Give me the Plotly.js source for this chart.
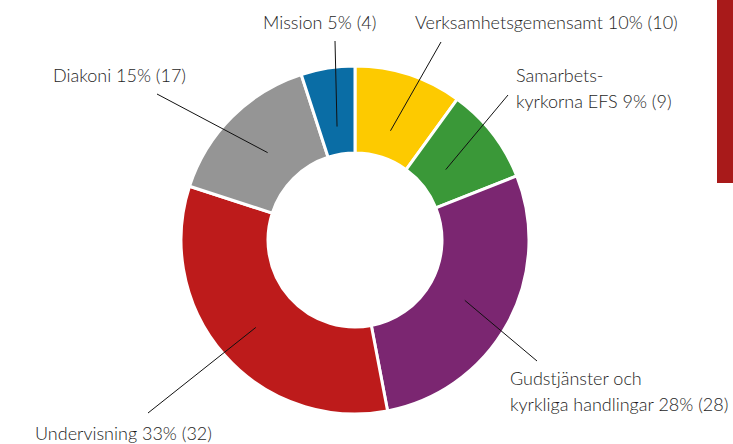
<!DOCTYPE html>
<html>
<head>
<meta charset="utf-8">
<script src="https://cdn.plot.ly/plotly-3.0.1.min.js"></script>
<style>html,body{margin:0;padding:0;background:#fff;}#chart{width:733px;height:444px;}</style>
</head>
<body>
<div id="chart"></div>
<script>
// Data
const categories = ["Verksamhetsgemensamt", "Samarbetskyrkorna EFS", "Gudstjänster och kyrkliga handlingar", "Undervisning", "Diakoni", "Mission"];
const percents = [10, 9, 28, 33, 15, 5];
const counts = [10, 9, 28, 32, 17, 4];
const colors = ["#FDCA00", "#3A9838", "#7B2671", "#BD1B1B", "#959595", "#0A6DA5"];
const labelLines = [
  ["Verksamhetsgemensamt 10% (10)"],
  ["Samarbets-", "kyrkorna EFS 9% (9)"],
  ["Gudstjänster och", "kyrkliga handlingar 28% (28)"],
  ["Undervisning 33% (32)"],
  ["Diakoni 15% (17)"],
  ["Mission 5% (4)"]
];

// Layout helpers (pixels)
const W = 733, H = 444;
const cx = 355, cy = 240, R = 174;
const px = x => x / W;
const py = y => 1 - y / H;

// leader-line tail ends and label anchors (layout only)
const tails = [[441, 42], [508, 95], [537, 361], [148, 413], [157, 94], [335, 41]];
const labelPos = [[413, 22], [514, 75], [508, 378], [33, 433], [51, 75], [261, 22]];
const lineGap = 26;
const tipFrac = [0.66, 0.66, 0.72, 0.76, 0.71, 0.66];

const total = percents.reduce((a, b) => a + b, 0);
const shapes = [];
const annotations = [];
let cum = 0;
percents.forEach((v, i) => {
  const mid = (cum + v / 2) / total * 2 * Math.PI;
  cum += v;
  const r = R * tipFrac[i];
  const tx = cx + r * Math.sin(mid), ty = cy - r * Math.cos(mid);
  shapes.push({type: "line", xref: "paper", yref: "paper",
    x0: px(tails[i][0]), y0: py(tails[i][1]), x1: px(tx), y1: py(ty),
    line: {color: "#111", width: 1}});
  labelLines[i].forEach((t, k) => {
    annotations.push({xref: "paper", yref: "paper", x: px(labelPos[i][0]), y: py(labelPos[i][1] + k * lineGap),
      xanchor: "left", yanchor: "middle", showarrow: false, text: t,
      font: {family: "Lato, 'Noto Sans', sans-serif", size: 18, weight: 300, color: "#1e1e1e"}});
  });
});

// decorative red bar at right
shapes.push({type: "rect", xref: "paper", yref: "paper", x0: px(717), x1: 1, y0: py(183), y1: 1,
  fillcolor: "#A81A1A", line: {width: 0}, layer: "below"});

const trace = {
  type: "pie",
  labels: categories,
  values: percents,
  customdata: counts,
  hole: 0.5,
  sort: false,
  direction: "clockwise",
  rotation: 0,
  textinfo: "none",
  hovertemplate: "%{label}: %{value}% (%{customdata})<extra></extra>",
  marker: {colors: colors, line: {color: "#ffffff", width: 3}},
  domain: {x: [px(cx - R), px(cx + R)], y: [py(cy + R), py(cy - R)]},
  showlegend: false
};

Plotly.newPlot("chart", [trace], {
  width: W, height: H,
  margin: {l: 0, r: 0, t: 0, b: 0},
  paper_bgcolor: "#fff",
  showlegend: false,
  shapes: shapes,
  annotations: annotations
}, {displayModeBar: false, staticPlot: true});
</script>
</body>
</html>
